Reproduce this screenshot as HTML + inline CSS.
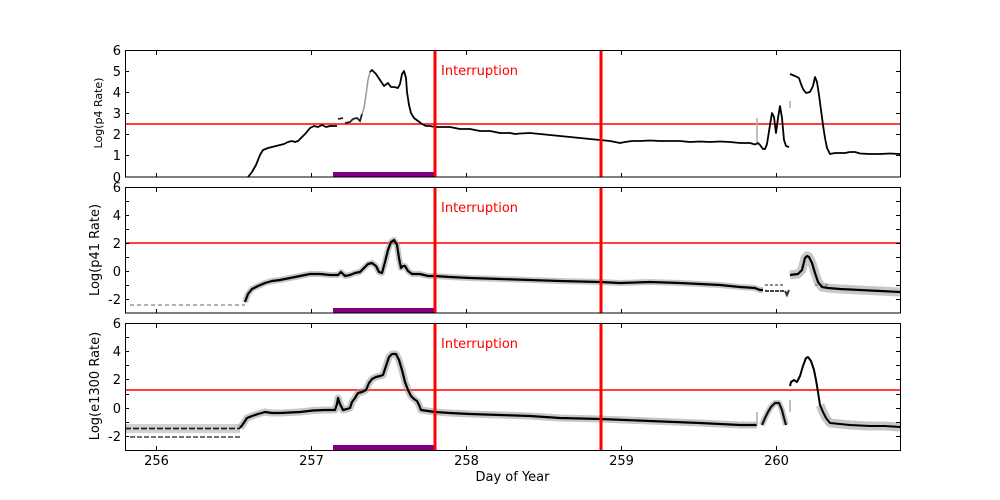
<!DOCTYPE html>
<html><head><meta charset="utf-8"><style>
html,body{margin:0;padding:0;background:#fff;}
svg{display:block;font-family:"DejaVu Sans","Liberation Sans",sans-serif;}
</style></head><body>
<svg width="1000" height="500" viewBox="0 0 1000 500" xmlns="http://www.w3.org/2000/svg">
<rect width="1000" height="500" fill="#fff"/>

<!-- ============ PANEL 1 ============ -->
<g>
<line x1="125" y1="124" x2="900" y2="124" stroke="#ff0000" stroke-width="1.5"/>
<rect x="333" y="172" width="102" height="5" fill="#800080"/>
<polyline fill="none" stroke="#999" stroke-width="1.5" points="362,114 364,108 366,95 368,80 370,72"/>
<polyline fill="none" stroke="#aaa" stroke-width="1.5" points="757,118 757,145"/>
<polyline fill="none" stroke="#aaa" stroke-width="1.5" points="790,101 790,108"/>
<polyline fill="none" stroke="#000" stroke-width="1.8" stroke-linejoin="round" points="248,177 252,172 256,165 260,155 263,150 268,148 272,147 276,146 280,145 284,144 288,142 292,141 295,142 298,141 302,137 306,133 310,128 314,126 318,127 322,125 326,127 330,126 337,126"/>
<polyline fill="none" stroke="#222" stroke-width="1.8" points="338,119 343,118"/>
<polyline fill="none" stroke="#222" stroke-width="1.8" points="345,123 350,122 353,119 357,118 360,121 362,114"/>
<polyline fill="none" stroke="#000" stroke-width="1.8" stroke-linejoin="round" points="370,72 372,70 376,74 380,80 384,86 388,83 391,87 394,87 398,88 400,84 402,74 404,71 406,78 407,92 409,105 411,113 414,118 418,121 422,124 426,126 430,126 435,127 440,127 450,127 460,129 470,129 480,131 490,131 500,133 510,133 515,134 520,133.5 530,133 540,134 550,135 560,136 570,137 580,138 590,139 600,140 610,141 620,143 625,142 632,141 640,141 650,140.5 660,141 670,141 680,141 690,142 700,141.5 710,142 720,141.5 730,142 740,143 750,143 755,144.5 758,143 760,145 763,149 765,149 767,144 770,125 772,113 774,117 776,133 778,118 780,106 782,118 784,140 786,146 789,147"/>
<polyline fill="none" stroke="#000" stroke-width="1.8" stroke-linejoin="round" points="790,74 795,76 799,78 801,84 803,89 806,93 810,92 813,86 815,77 817,82 819,95 821,110 823,125 825,138 827,148 830,154 835,153 845,153 850,152 855,152 860,153.5 870,154 880,154 890,153.5 900,154"/>
<line x1="435" y1="50" x2="435" y2="177" stroke="#ff0000" stroke-width="3"/>
<line x1="601" y1="50" x2="601" y2="177" stroke="#ff0000" stroke-width="3"/>
<text x="441" y="75" fill="#ff0000" font-size="13">Interruption</text>
<rect x="125.5" y="50.5" width="775" height="126.5" fill="none" stroke="#000" stroke-width="1"/>
<g stroke="#000" stroke-width="1">
<line x1="156.5" y1="51" x2="156.5" y2="55"/><line x1="156.5" y1="177" x2="156.5" y2="173"/>
<line x1="311.5" y1="51" x2="311.5" y2="55"/><line x1="311.5" y1="177" x2="311.5" y2="173"/>
<line x1="466.5" y1="51" x2="466.5" y2="55"/><line x1="466.5" y1="177" x2="466.5" y2="173"/>
<line x1="621.5" y1="51" x2="621.5" y2="55"/><line x1="621.5" y1="177" x2="621.5" y2="173"/>
<line x1="776.5" y1="51" x2="776.5" y2="55"/><line x1="776.5" y1="177" x2="776.5" y2="173"/>
<line x1="125" y1="155.5" x2="129" y2="155.5"/><line x1="900" y1="155.5" x2="896" y2="155.5"/>
<line x1="125" y1="134.5" x2="129" y2="134.5"/><line x1="900" y1="134.5" x2="896" y2="134.5"/>
<line x1="125" y1="113.5" x2="129" y2="113.5"/><line x1="900" y1="113.5" x2="896" y2="113.5"/>
<line x1="125" y1="92.5" x2="129" y2="92.5"/><line x1="900" y1="92.5" x2="896" y2="92.5"/>
<line x1="125" y1="71.5" x2="129" y2="71.5"/><line x1="900" y1="71.5" x2="896" y2="71.5"/>
</g>
<g font-size="13" text-anchor="end" fill="#000">
<text x="121" y="182">0</text><text x="121" y="160">1</text><text x="121" y="139">2</text>
<text x="121" y="118">3</text><text x="121" y="97">4</text><text x="121" y="76">5</text><text x="121" y="55">6</text>
</g>
<text transform="translate(102,113) rotate(-90)" font-size="11" text-anchor="middle">Log(p4 Rate)</text>
</g>

<!-- ============ PANEL 2 ============ -->
<g>
<line x1="125" y1="243" x2="900" y2="243" stroke="#ff0000" stroke-width="1.5"/>
<rect x="333" y="308" width="102" height="5" fill="#800080"/>
<line x1="130" y1="305" x2="245" y2="305" stroke="#999" stroke-width="1.5" stroke-dasharray="4,3"/>
<polyline fill="none" stroke="#999" stroke-opacity="0.55" stroke-width="6" stroke-linejoin="round" points="245,302 248,294 252,289 258,286 265,283 272,281 280,280 290,278 300,276 310,274 320,274 330,275 338,275 341,272 345,276 350,275 355,273 360,272 364,268 368,264 372,263 376,266 379,272 382,273 385,262 388,250 391,242 394,240 397,245 399,258 401,268 403,266 405,266 408,271 412,274 420,274 428,276 435,276 450,277 470,278 500,279 530,280 560,281 600,282 620,283 650,282 680,283 700,284 720,285 740,287 755,288 760,290 763,290"/>
<polyline fill="none" stroke="#000" stroke-width="2.2" stroke-linejoin="round" points="245,302 248,294 252,289 258,286 265,283 272,281 280,280 290,278 300,276 310,274 320,274 330,275 338,275 341,272 345,276 350,275 355,273 360,272 364,268 368,264 372,263 376,266 379,272 382,273 385,262 388,250 391,242 394,240 397,245 399,258 401,268 403,266 405,266 408,271 412,274 420,274 428,276 435,276 450,277 470,278 500,279 530,280 560,281 600,282 620,283 650,282 680,283 700,284 720,285 740,287 755,288 760,290 763,290"/>
<line x1="765" y1="285" x2="785" y2="285" stroke="#666" stroke-width="1.5" stroke-dasharray="3,2"/>
<line x1="765" y1="291" x2="785" y2="291" stroke="#444" stroke-width="2" stroke-dasharray="4,1"/>
<polyline fill="none" stroke="#333" stroke-width="2" points="785,291 787,295 789,290"/>
<line x1="815" y1="285" x2="830" y2="285" stroke="#666" stroke-width="1.5" stroke-dasharray="3,2"/>
<polyline fill="none" stroke="#999" stroke-opacity="0.55" stroke-width="9" stroke-linejoin="round" points="790,275 798,274 802,270 805,258 807,256 809,257 812,263 815,273 818,282 822,287 828,288 840,289 860,290 880,291 900,292"/>
<polyline fill="none" stroke="#000" stroke-width="2.2" stroke-linejoin="round" points="790,275 798,274 802,270 805,258 807,256 809,257 812,263 815,273 818,282 822,287 828,288 840,289 860,290 880,291 900,292"/>
<line x1="435" y1="187" x2="435" y2="313" stroke="#ff0000" stroke-width="3"/>
<line x1="601" y1="187" x2="601" y2="313" stroke="#ff0000" stroke-width="3"/>
<text x="441" y="212" fill="#ff0000" font-size="13">Interruption</text>
<rect x="125.5" y="187.5" width="775" height="125.5" fill="none" stroke="#000" stroke-width="1"/>
<g stroke="#000" stroke-width="1">
<line x1="156.5" y1="188" x2="156.5" y2="192"/><line x1="156.5" y1="313" x2="156.5" y2="309"/>
<line x1="311.5" y1="188" x2="311.5" y2="192"/><line x1="311.5" y1="313" x2="311.5" y2="309"/>
<line x1="466.5" y1="188" x2="466.5" y2="192"/><line x1="466.5" y1="313" x2="466.5" y2="309"/>
<line x1="621.5" y1="188" x2="621.5" y2="192"/><line x1="621.5" y1="313" x2="621.5" y2="309"/>
<line x1="776.5" y1="188" x2="776.5" y2="192"/><line x1="776.5" y1="313" x2="776.5" y2="309"/>
<line x1="125" y1="299.5" x2="129" y2="299.5"/><line x1="900" y1="299.5" x2="896" y2="299.5"/>
<line x1="125" y1="285.5" x2="129" y2="285.5"/><line x1="900" y1="285.5" x2="896" y2="285.5"/>
<line x1="125" y1="271.5" x2="129" y2="271.5"/><line x1="900" y1="271.5" x2="896" y2="271.5"/>
<line x1="125" y1="257.5" x2="129" y2="257.5"/><line x1="900" y1="257.5" x2="896" y2="257.5"/>
<line x1="125" y1="243.5" x2="129" y2="243.5"/><line x1="900" y1="243.5" x2="896" y2="243.5"/>
<line x1="125" y1="229.5" x2="129" y2="229.5"/><line x1="900" y1="229.5" x2="896" y2="229.5"/>
<line x1="125" y1="215.5" x2="129" y2="215.5"/><line x1="900" y1="215.5" x2="896" y2="215.5"/>
<line x1="125" y1="201.5" x2="129" y2="201.5"/><line x1="900" y1="201.5" x2="896" y2="201.5"/>
</g>
<g font-size="13" text-anchor="end" fill="#000">
<text x="121" y="304">-2</text><text x="121" y="276">0</text><text x="121" y="248">2</text>
<text x="121" y="220">4</text><text x="121" y="192">6</text>
</g>
<text transform="translate(99,250) rotate(-90)" font-size="13" text-anchor="middle">Log(p41 Rate)</text>
</g>

<!-- ============ PANEL 3 ============ -->
<g>
<line x1="125" y1="390" x2="900" y2="390" stroke="#ff0000" stroke-width="1.5"/>
<rect x="333" y="445" width="102" height="5" fill="#800080"/>
<rect x="125" y="424" width="115" height="9" fill="#999" fill-opacity="0.45"/>
<line x1="125" y1="428.5" x2="240" y2="428.5" stroke="#222" stroke-width="1.8" stroke-dasharray="6,2"/>
<line x1="130" y1="437" x2="240" y2="437" stroke="#444" stroke-width="1.5" stroke-dasharray="5,2"/>
<polyline fill="none" stroke="#999" stroke-opacity="0.55" stroke-width="7" stroke-linejoin="round" points="240,428 243,424 247,418 252,416 258,414 265,412 272,413 280,413 290,412.5 300,412 313,410.5 325,410 335,410 337,404 338,398 340,404 343,410 347,409 350,408 352,402 355,398 358,393 362,392 366,390 369,383 372,379 376,377 380,376 383,375 386,366 389,357 392,354 396,354 399,360 402,370 405,382 408,390 411,396 414,399 417,401 419,405 421,410 428,411 435,412 450,413 470,414 500,415 530,416 560,418 600,419 650,421 700,423 740,425 755,425 757,425"/>
<polyline fill="none" stroke="#000" stroke-width="2.2" stroke-linejoin="round" points="240,428 243,424 247,418 252,416 258,414 265,412 272,413 280,413 290,412.5 300,412 313,410.5 325,410 335,410 337,404 338,398 340,404 343,410 347,409 350,408 352,402 355,398 358,393 362,392 366,390 369,383 372,379 376,377 380,376 383,375 386,366 389,357 392,354 396,354 399,360 402,370 405,382 408,390 411,396 414,399 417,401 419,405 421,410 428,411 435,412 450,413 470,414 500,415 530,416 560,418 600,419 650,421 700,423 740,425 755,425 757,425"/>
<polyline fill="none" stroke="#aaa" stroke-width="1.5" points="757,412 757,425"/>
<polyline fill="none" stroke="#999" stroke-opacity="0.55" stroke-width="6" stroke-linejoin="round" points="762,425 765,418 768,412 771,407 775,403 779,403 782,410 784,418 786,425"/>
<polyline fill="none" stroke="#111" stroke-width="2.2" stroke-linejoin="round" points="762,425 765,418 768,412 771,407 775,403 779,403 782,410 784,418 786,425"/>
<polyline fill="none" stroke="#aaa" stroke-width="1.5" points="790,400 790,412"/>
<polyline fill="none" stroke="#999" stroke-opacity="0.55" stroke-width="9" stroke-linejoin="round" points="820,405 823,412 826,418 830,423 840,424 850,425 870,426 885,426 900,427"/>
<polyline fill="none" stroke="#000" stroke-width="2" stroke-linejoin="round" points="790,386 791,382 794,380 797,382 800,376 803,366 806,358 808,357 811,361 814,370 816,380 818,392 820,405 823,412 826,418 830,423 840,424 850,425 870,426 885,426 900,427"/>
<line x1="435" y1="323" x2="435" y2="450" stroke="#ff0000" stroke-width="3"/>
<line x1="601" y1="323" x2="601" y2="450" stroke="#ff0000" stroke-width="3"/>
<text x="441" y="348" fill="#ff0000" font-size="13">Interruption</text>
<rect x="125.5" y="323.5" width="775" height="127" fill="none" stroke="#000" stroke-width="1"/>
<g stroke="#000" stroke-width="1">
<line x1="156.5" y1="324" x2="156.5" y2="328"/><line x1="156.5" y1="450" x2="156.5" y2="446"/>
<line x1="311.5" y1="324" x2="311.5" y2="328"/><line x1="311.5" y1="450" x2="311.5" y2="446"/>
<line x1="466.5" y1="324" x2="466.5" y2="328"/><line x1="466.5" y1="450" x2="466.5" y2="446"/>
<line x1="621.5" y1="324" x2="621.5" y2="328"/><line x1="621.5" y1="450" x2="621.5" y2="446"/>
<line x1="776.5" y1="324" x2="776.5" y2="328"/><line x1="776.5" y1="450" x2="776.5" y2="446"/>
<line x1="125" y1="436.5" x2="129" y2="436.5"/><line x1="900" y1="436.5" x2="896" y2="436.5"/>
<line x1="125" y1="422.5" x2="129" y2="422.5"/><line x1="900" y1="422.5" x2="896" y2="422.5"/>
<line x1="125" y1="408.5" x2="129" y2="408.5"/><line x1="900" y1="408.5" x2="896" y2="408.5"/>
<line x1="125" y1="394.5" x2="129" y2="394.5"/><line x1="900" y1="394.5" x2="896" y2="394.5"/>
<line x1="125" y1="379.5" x2="129" y2="379.5"/><line x1="900" y1="379.5" x2="896" y2="379.5"/>
<line x1="125" y1="365.5" x2="129" y2="365.5"/><line x1="900" y1="365.5" x2="896" y2="365.5"/>
<line x1="125" y1="351.5" x2="129" y2="351.5"/><line x1="900" y1="351.5" x2="896" y2="351.5"/>
<line x1="125" y1="337.5" x2="129" y2="337.5"/><line x1="900" y1="337.5" x2="896" y2="337.5"/>
</g>
<g font-size="13" text-anchor="end" fill="#000">
<text x="121" y="441">-2</text><text x="121" y="413">0</text><text x="121" y="384">2</text>
<text x="121" y="356">4</text><text x="121" y="328">6</text>
</g>
<text transform="translate(99,386) rotate(-90)" font-size="13" text-anchor="middle">Log(e1300 Rate)</text>
<g font-size="13" text-anchor="middle" fill="#000">
<text x="156.5" y="465">256</text><text x="311.5" y="465">257</text><text x="466.5" y="465">258</text>
<text x="621.5" y="465">259</text><text x="776.5" y="465">260</text>
</g>
<text x="512.5" y="481" font-size="13" text-anchor="middle">Day of Year</text>
</g>
</svg>
</body></html>
